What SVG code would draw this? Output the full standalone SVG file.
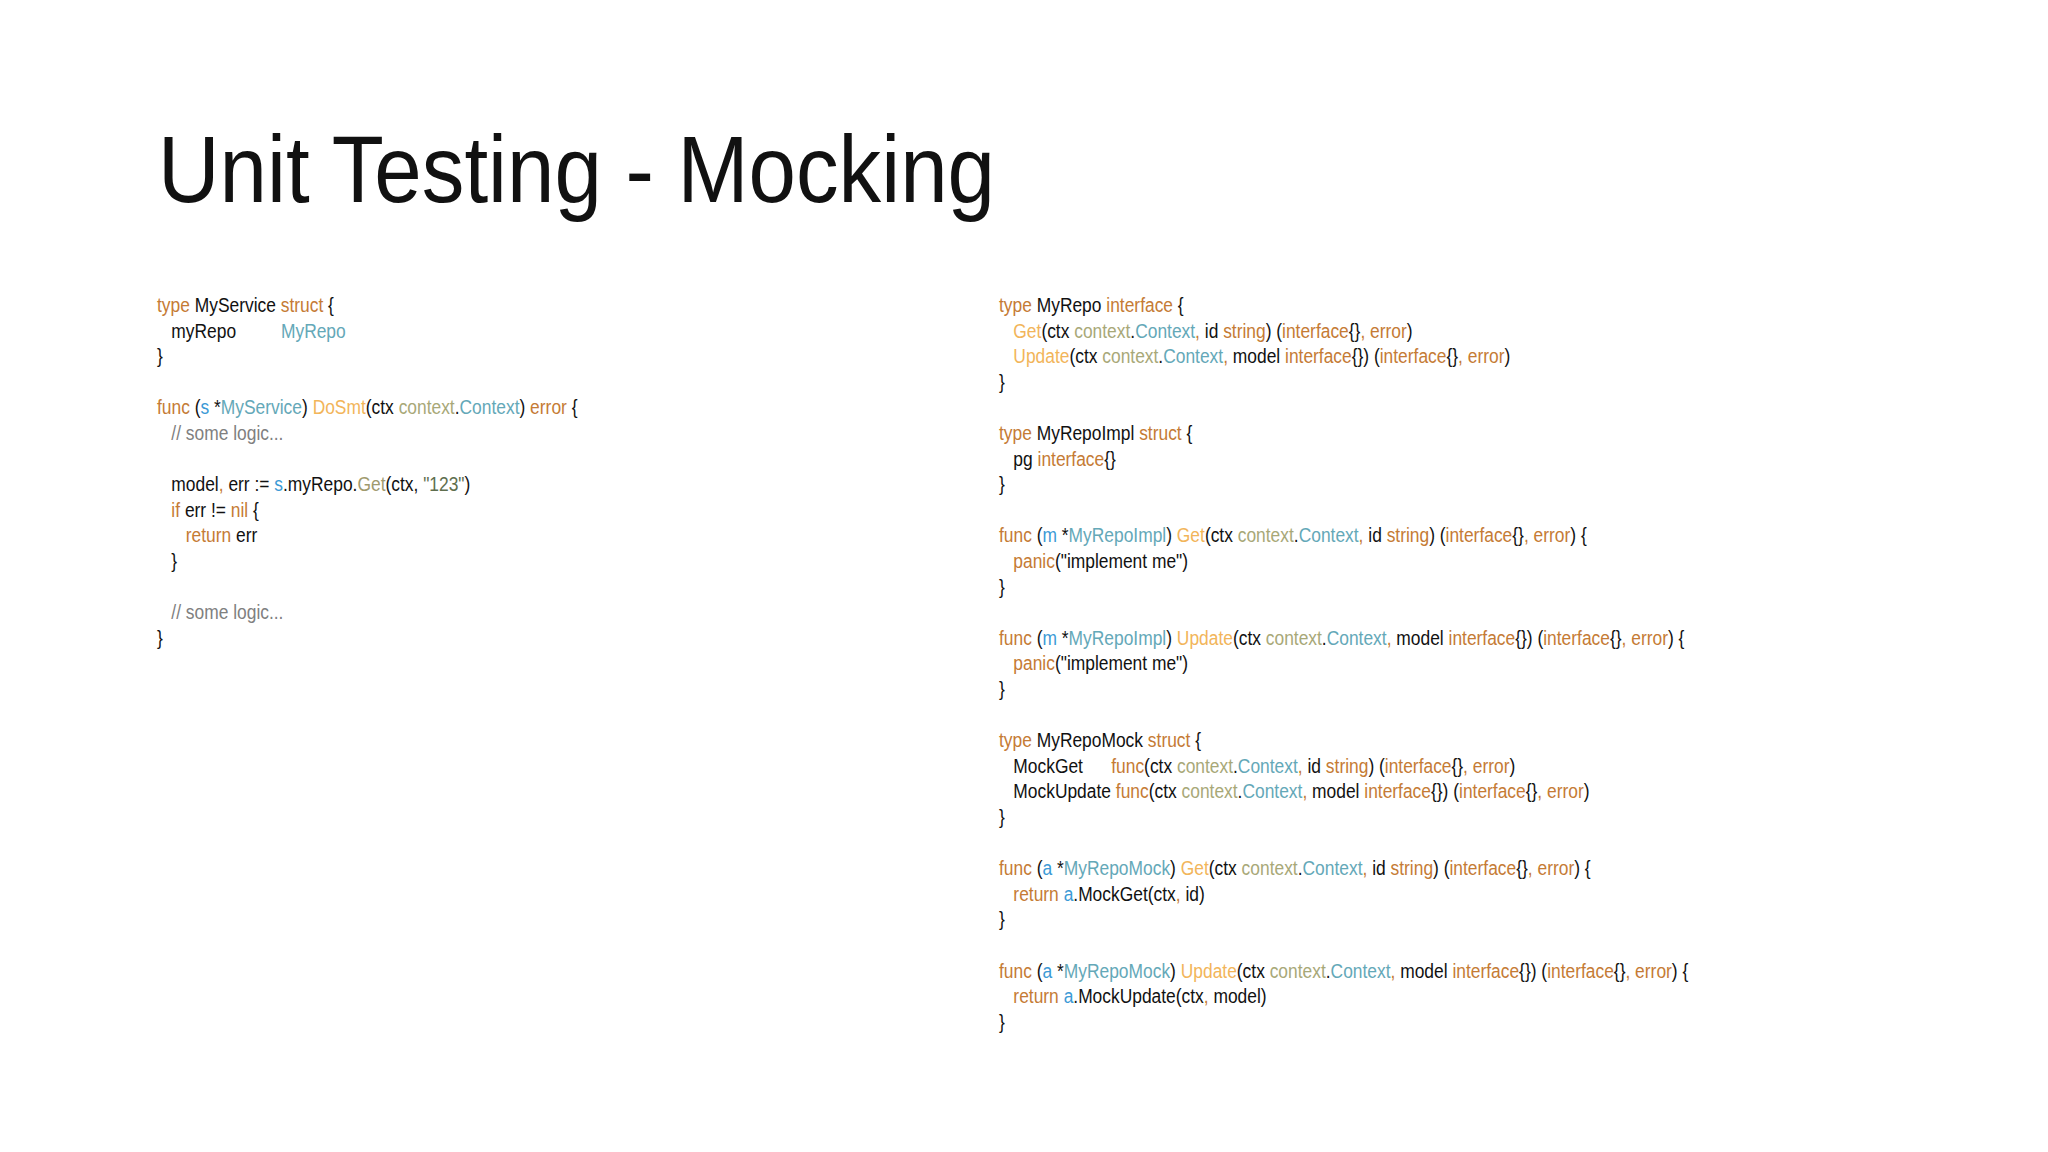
<svg xmlns="http://www.w3.org/2000/svg" width="2048" height="1152" viewBox="0 0 2048 1152">
<style>
text{font-family:"Liberation Sans",Arial,sans-serif;font-size:20px;fill:#111}
.t{font-size:95px;fill:#111}
.k{fill:#C57B35}.y{fill:#64A8B8}.v{fill:#3C9AD6}.f{fill:#F2B55A}.c{fill:#A8A878}.g{fill:#A09A6E}.s{fill:#5E6E4E}.m{fill:#808080}
</style>
<rect width="2048" height="1152" fill="#fff"/>
<g id="title"><text class="t" x="158" y="202" textLength="837" lengthAdjust="spacingAndGlyphs">Unit Testing - Mocking</text></g>
<g id="left" transform="translate(157,0) scale(0.87,1)">
<text x="0" y="312"><tspan class="k">type</tspan> MyService <tspan class="k">struct</tspan> {</text>
<text x="16.5" y="337.6">myRepo<tspan x="142.5" class="y">MyRepo</tspan></text>
<text x="0" y="363.2">}</text>
<text x="0" y="414.4"><tspan class="k">func</tspan> (<tspan class="v">s</tspan> *<tspan class="y">MyService</tspan>) <tspan class="f">DoSmt</tspan>(ctx <tspan class="c">context</tspan>.<tspan class="y">Context</tspan>) <tspan class="k">error</tspan> {</text>
<text x="16.5" y="440" class="m">// some logic...</text>
<text x="16.5" y="491.2">model<tspan class="k">,</tspan> err := <tspan class="v">s</tspan>.myRepo.<tspan class="g">Get</tspan>(ctx, <tspan class="s">"123"</tspan>)</text>
<text x="16.5" y="516.8"><tspan class="k">if</tspan> err != <tspan class="k">nil</tspan> {</text>
<text x="33" y="542.4"><tspan class="k">return</tspan> err</text>
<text x="16.5" y="568">}</text>
<text x="16.5" y="619.2" class="m">// some logic...</text>
<text x="0" y="644.8">}</text>
</g>
<g id="right" transform="translate(999,0) scale(0.87,1)">
<text x="0" y="312"><tspan class="k">type</tspan> MyRepo <tspan class="k">interface</tspan> {</text>
<text x="16.5" y="337.6"><tspan class="f">Get</tspan>(ctx <tspan class="c">context</tspan>.<tspan class="y">Context</tspan><tspan class="k">,</tspan> id <tspan class="k">string</tspan>) (<tspan class="k">interface</tspan>{}<tspan class="k">, error</tspan>)</text>
<text x="16.5" y="363.2"><tspan class="f">Update</tspan>(ctx <tspan class="c">context</tspan>.<tspan class="y">Context</tspan><tspan class="k">,</tspan> model <tspan class="k">interface</tspan>{}) (<tspan class="k">interface</tspan>{}<tspan class="k">, error</tspan>)</text>
<text x="0" y="388.8">}</text>
<text x="0" y="440"><tspan class="k">type</tspan> MyRepoImpl <tspan class="k">struct</tspan> {</text>
<text x="16.5" y="465.6">pg <tspan class="k">interface</tspan>{}</text>
<text x="0" y="491.2">}</text>
<text x="0" y="542.4"><tspan class="k">func</tspan> (<tspan class="v">m</tspan> *<tspan class="y">MyRepoImpl</tspan>) <tspan class="f">Get</tspan>(ctx <tspan class="c">context</tspan>.<tspan class="y">Context</tspan><tspan class="k">,</tspan> id <tspan class="k">string</tspan>) (<tspan class="k">interface</tspan>{}<tspan class="k">, error</tspan>) {</text>
<text x="16.5" y="568"><tspan class="k">panic</tspan>("implement me")</text>
<text x="0" y="593.6">}</text>
<text x="0" y="644.8"><tspan class="k">func</tspan> (<tspan class="v">m</tspan> *<tspan class="y">MyRepoImpl</tspan>) <tspan class="f">Update</tspan>(ctx <tspan class="c">context</tspan>.<tspan class="y">Context</tspan><tspan class="k">,</tspan> model <tspan class="k">interface</tspan>{}) (<tspan class="k">interface</tspan>{}<tspan class="k">, error</tspan>) {</text>
<text x="16.5" y="670.4"><tspan class="k">panic</tspan>("implement me")</text>
<text x="0" y="696">}</text>
<text x="0" y="747.2"><tspan class="k">type</tspan> MyRepoMock <tspan class="k">struct</tspan> {</text>
<text x="16.5" y="772.8">MockGet<tspan x="129" class="k">func</tspan>(ctx <tspan class="c">context</tspan>.<tspan class="y">Context</tspan><tspan class="k">,</tspan> id <tspan class="k">string</tspan>) (<tspan class="k">interface</tspan>{}<tspan class="k">, error</tspan>)</text>
<text x="16.5" y="798.4">MockUpdate <tspan class="k">func</tspan>(ctx <tspan class="c">context</tspan>.<tspan class="y">Context</tspan><tspan class="k">,</tspan> model <tspan class="k">interface</tspan>{}) (<tspan class="k">interface</tspan>{}<tspan class="k">, error</tspan>)</text>
<text x="0" y="824">}</text>
<text x="0" y="875.2"><tspan class="k">func</tspan> (<tspan class="v">a</tspan> *<tspan class="y">MyRepoMock</tspan>) <tspan class="f">Get</tspan>(ctx <tspan class="c">context</tspan>.<tspan class="y">Context</tspan><tspan class="k">,</tspan> id <tspan class="k">string</tspan>) (<tspan class="k">interface</tspan>{}<tspan class="k">, error</tspan>) {</text>
<text x="16.5" y="900.8"><tspan class="k">return</tspan> <tspan class="v">a</tspan>.MockGet(ctx<tspan class="k">,</tspan> id)</text>
<text x="0" y="926.4">}</text>
<text x="0" y="977.6"><tspan class="k">func</tspan> (<tspan class="v">a</tspan> *<tspan class="y">MyRepoMock</tspan>) <tspan class="f">Update</tspan>(ctx <tspan class="c">context</tspan>.<tspan class="y">Context</tspan><tspan class="k">,</tspan> model <tspan class="k">interface</tspan>{}) (<tspan class="k">interface</tspan>{}<tspan class="k">, error</tspan>) {</text>
<text x="16.5" y="1003.2"><tspan class="k">return</tspan> <tspan class="v">a</tspan>.MockUpdate(ctx<tspan class="k">,</tspan> model)</text>
<text x="0" y="1028.8">}</text>
</g>
</svg>
